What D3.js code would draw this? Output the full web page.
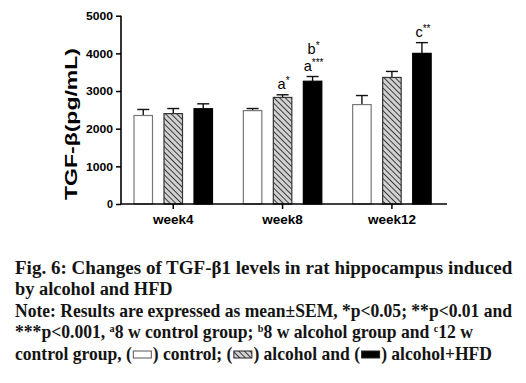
<!DOCTYPE html>
<html><head><meta charset="utf-8">
<script src="https://cdn.jsdelivr.net/npm/d3@7"></script>
<style>body{margin:0;background:#fff}svg{display:block}</style>
</head><body>
<script>
const groups = ["week4", "week8", "week12"];
const series = ["control", "alcohol", "alcohol+HFD"];
const controlMean = [2350, 2480, 2640];
const controlSem = [160, 55, 240];
const alcoholMean = [2400, 2830, 3360];
const alcoholSem = [135, 70, 160];
const hfdMean = [2530, 3260, 4000];
const hfdSem = [130, 125, 285];
const yTicks = [0, 1000, 2000, 3000, 4000, 5000];
const annotations = [
  {group: "week8", series: "alcohol", letter: "a", stars: "*", level: 0},
  {group: "week8", series: "alcohol+HFD", letter: "a", stars: "***", level: 0},
  {group: "week8", series: "alcohol+HFD", letter: "b", stars: "*", level: 1},
  {group: "week12", series: "alcohol+HFD", letter: "c", stars: "**", level: 0}
];
// caption lines: plain strings, {sup} superscripts, {sw} legend swatches
const captionLines = [
  {width: 497, parts: [{t: "Fig. 6: Changes of TGF-\u03B21 levels in rat hippocampus induced"}]},
  {width: 157.5, parts: [{t: "by alcohol and HFD"}]},
  {width: 497, parts: [{t: "Note: Results are expressed as mean\u00B1SEM, *p<0.05; **p<0.01 and"}]},
  {width: 458, parts: [{t: "***p<0.001, "}, {t: "a", sup: true}, {t: "8 w control group; "}, {t: "b", sup: true},
                       {t: "8 w alcohol group and "}, {t: "c", sup: true}, {t: "12 w"}]},
  {width: 477, parts: [{t: "control group, ("}, {sw: "control"}, {t: ") control; ("}, {sw: "alcohol"},
                       {t: ") alcohol and ("}, {sw: "alcohol+HFD"}, {t: ") alcohol+HFD"}]}
];

const means = [controlMean, alcoholMean, hfdMean];
const sems = [controlSem, alcoholSem, hfdSem];
const rows = [];
groups.forEach((g, gi) => series.forEach((s, si) => rows.push({group: g, series: s, mean: means[si][gi], sem: sems[si][gi]})));

const W = 526, H = 383;
const svg = d3.select("body").append("svg").attr("width", W).attr("height", H);
const defs = svg.append("defs");
const pat = defs.append("pattern").attr("id", "hatch").attr("patternUnits", "userSpaceOnUse")
  .attr("width", 4).attr("height", 4).attr("patternTransform", "rotate(-45)");
pat.append("rect").attr("width", 4).attr("height", 4).attr("fill", "#d2d2d2");
pat.append("line").attr("x1", 0.5).attr("y1", 0).attr("x2", 0.5).attr("y2", 4).attr("stroke", "#3a3a3a").attr("stroke-width", 1);

const y = d3.scaleLinear().domain([0, 5000]).range([204, 15.7]);
const x0 = d3.scaleBand().domain(groups).range([118.5, 446.5]);
const x1 = d3.scaleBand().domain(series).range([15, 94.5]).paddingInner(0.35).paddingOuter(0);
const groupCenter = g => x0(g) + (x1.range()[0] + x1.range()[1]) / 2;
const barX = d => x0(d.group) + x1(d.series);
const barC = d => barX(d) + x1.bandwidth() / 2;

const fillOf = {"control": "#fff", "alcohol": "url(#hatch)", "alcohol+HFD": "#000"};
const strokeOf = {"control": "#777", "alcohol": "#333", "alcohol+HFD": "#000"};

// error bars
const eb = svg.append("g").selectAll("g").data(rows).join("g");
eb.append("line").attr("x1", barC).attr("x2", barC).attr("y1", d => y(d.mean)).attr("y2", d => y(d.mean + d.sem))
  .attr("stroke", "#111").attr("stroke-width", 1.4);
eb.append("line").attr("x1", d => barC(d) - 6).attr("x2", d => barC(d) + 6)
  .attr("y1", d => y(d.mean + d.sem)).attr("y2", d => y(d.mean + d.sem))
  .attr("stroke", "#111").attr("stroke-width", 1.4);

// bars
svg.append("g").selectAll("rect").data(rows).join("rect")
  .attr("x", d => barX(d) + 0.5).attr("width", x1.bandwidth() - 1)
  .attr("y", d => y(d.mean)).attr("height", d => y(0) - y(d.mean))
  .attr("fill", d => fillOf[d.series]).attr("stroke", d => strokeOf[d.series]).attr("stroke-width", 1.2);

// axes
svg.append("line").attr("x1", 121).attr("x2", 121).attr("y1", y(5000)).attr("y2", y(0)).attr("stroke", "#000").attr("stroke-width", 1.6);
svg.append("line").attr("x1", 120.2).attr("x2", 447).attr("y1", y(0)).attr("y2", y(0)).attr("stroke", "#000").attr("stroke-width", 1.6);

const yAxis = svg.append("g").attr("transform", "translate(121,0)")
  .call(d3.axisLeft(y).tickValues(yTicks).tickSize(5).tickFormat(d3.format("d")));
yAxis.select(".domain").remove();
yAxis.selectAll(".tick line").attr("stroke", "#000").attr("stroke-width", 1.5);
yAxis.selectAll(".tick text").attr("x", -8).attr("dy", "0.36em")
  .attr("font-family", "Arial, 'Liberation Sans', sans-serif").attr("font-weight", "bold").attr("font-size", 10.5)
  .attr("fill", "#000")
  .attr("textLength", d => String(d).length * 7 - 1).attr("lengthAdjust", "spacingAndGlyphs");

const xAxisG = svg.append("g").attr("transform", `translate(0,${y(0)})`);
groups.forEach(g => {
  const cx = groupCenter(g);
  xAxisG.append("line").attr("x1", cx).attr("x2", cx).attr("y1", 0).attr("y2", 5).attr("stroke", "#000").attr("stroke-width", 1.5);
  xAxisG.append("text").attr("x", cx).attr("y", 20).attr("text-anchor", "middle")
    .attr("font-family", "Arial, 'Liberation Sans', sans-serif").attr("font-weight", "bold").attr("font-size", 13.5)
    .attr("fill", "#000").text(g);
});

// y title
svg.append("text").attr("transform", `translate(77,124) rotate(-90)`).attr("text-anchor", "middle")
  .attr("font-family", "Arial, 'Liberation Sans', sans-serif").attr("font-weight", "bold").attr("font-size", 17)
  .attr("textLength", 152).attr("lengthAdjust", "spacingAndGlyphs")
  .attr("fill", "#000").text("TGF-\u03B2(pg/mL)");

// annotations
const rowOf = (g, s) => rows.find(r => r.group === g && r.series === s);
annotations.forEach(a => {
  const r = rowOf(a.group, a.series);
  const t = svg.append("text").attr("x", barC(r) + 1).attr("y", y(r.mean + r.sem) - 5.5 - a.level * 17.5)
    .attr("text-anchor", "middle").attr("font-family", "Arial, 'Liberation Sans', sans-serif")
    .attr("font-size", 14.5).attr("fill", "#000");
  t.append("tspan").text(a.letter);
  t.append("tspan").attr("font-size", 10).attr("dy", -5).text(a.stars);
});

// caption
const serif = "'Liberation Serif', 'Times New Roman', serif";
const capFont = 17.8;
const leftX = 15;
const baselines = [273.5, 295, 316.5, 338, 359.5];
const swW = 21;
captionLines.forEach((line, li) => {
  const hasSw = line.parts.some(p => p.sw);
  if (!hasSw) {
    // one text element (superscripts as tspans), compressed horizontally to the target width
    const g = svg.append("g");
    const t = g.append("text").attr("x", 0).attr("y", 0)
      .attr("font-family", serif).attr("font-weight", "bold").attr("font-size", capFont).attr("fill", "#141414");
    line.parts.forEach(p => {
      const ts = t.append("tspan").text(p.t);
      if (p.sup) ts.attr("font-size", capFont * 0.58).attr("baseline-shift", "6px");
    });
    const w = t.node().getComputedTextLength();
    g.attr("transform", `translate(${leftX},${baselines[li]}) scale(${line.width / w},1)`);
    return;
  }
  const g = svg.append("g");
  const items = line.parts.map(p => {
    if (p.sw) return {sw: p.sw};
    const t = g.append("text").attr("y", baselines[li])
      .attr("xml:space", "preserve").style("white-space", "pre")
      .attr("font-family", serif).attr("font-weight", "bold").attr("font-size", capFont).attr("fill", "#141414").text(p.t);
    return {t, w: t.node().getComputedTextLength()};
  });
  const nSw = items.filter(d => d.sw).length;
  const natural = d3.sum(items, d => d.w || 0);
  const k = (line.width - nSw * swW) / natural;
  let cx = leftX;
  items.forEach(it => {
    if (it.sw) {
      g.append("rect").attr("x", cx + 1.5).attr("y", baselines[li] - 8.5).attr("width", 18).attr("height", 7)
        .attr("fill", fillOf[it.sw]).attr("stroke", it.sw === "control" ? "#555" : "#222").attr("stroke-width", 1);
      cx += swW;
    } else {
      it.t.attr("x", cx).attr("textLength", it.w * k).attr("lengthAdjust", "spacingAndGlyphs");
      cx += it.w * k;
    }
  });
});
</script>
</body></html>
